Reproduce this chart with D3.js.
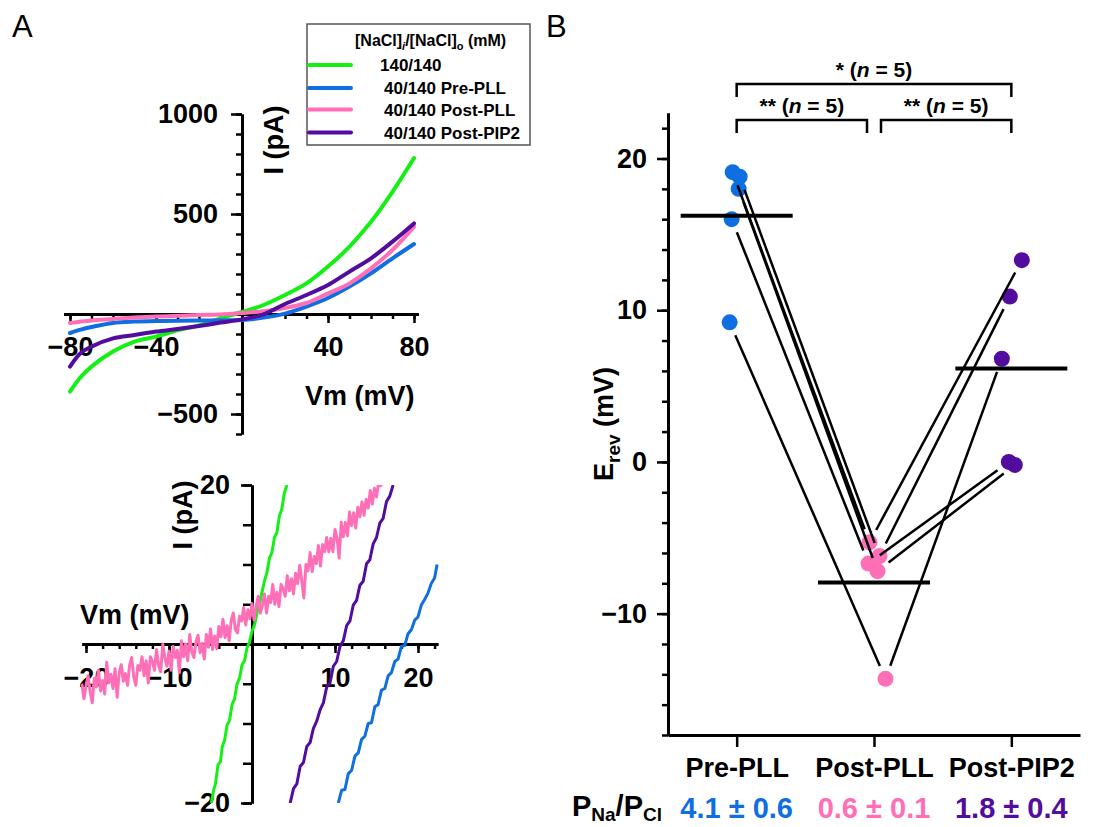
<!DOCTYPE html>
<html><head><meta charset="utf-8">
<script src="https://cdn.jsdelivr.net/npm/d3@7/dist/d3.min.js"></script>
<style>
html,body{margin:0;padding:0;background:#fff;}
svg{display:block;font-family:"Liberation Sans",Arial,sans-serif;}
</style></head><body>
<svg id="chart" width="1096" height="827"></svg>
<script>
// ---------------- DATA ----------------
const seriesNames = ["140/140", "40/140 Pre-PLL", "40/140 Post-PLL", "40/140 Post-PIP2"];
const seriesColors = ["#14f014", "#0f6fe0", "#ff6fb7", "#520c9e"];

// Panel A (top): whole I-V curves, Vm (mV) vs I (pA)
const ivVoltage = [-80, -75, -70, -60, -50, -40, -30, -20, -10, 0, 10, 20, 30, 40, 50, 60, 70, 80];
const ivGreen   = [-388, -315, -263, -188, -138, -113, -82, -57, -22, 10, 45, 95, 153, 237, 337, 461, 611, 780];
const ivBlue    = [-95, -78, -65, -45, -38, -35, -34, -33, -31, -30, -18, 2, 37, 80, 137, 203, 278, 350];
const ivPink    = [-45, -38, -32, -25, -18, -13, -9, -5, -2, 5, 14, 30, 55, 103, 153, 228, 320, 437];
const ivPurple  = [-263, -195, -163, -122, -105, -88, -75, -60, -43, -27, -2, 50, 95, 145, 212, 278, 362, 453];

// Panel A (bottom): zoom near reversal
const zoomGreenV = [-4.9,-4.6,-4.4,-4.1,-3.8,-3.6,-3.3,-3.0,-2.7,-2.4,-2.1,-1.8,-1.5,-1.2,-0.9,-0.6,-0.3,0,0.3,0.6,0.9,1.2,1.5,1.8,2.1,2.4,2.7,3.0,3.3,3.6,3.9,4.2];
const zoomGreenI = [-20,-18.3,-17.6,-15.2,-14.8,-13.0,-12.1,-10.2,-9.6,-7.6,-6.9,-5.0,-4.3,-2.6,-2.1,-0.5,0.2,1.6,2.4,3.9,5.0,6.5,7.9,9.0,10.8,11.5,13.4,14.0,16.1,17.0,19.0,20];
const zoomPurpleV = [4.6,5.0,5.4,5.8,6.2,6.6,7.0,7.4,7.8,8.2,8.6,9.0,9.4,9.8,10.2,10.6,11.0,11.4,11.8,12.2,12.6,13.0,13.4,13.8,14.2,14.6,15.0,15.4,15.8,16.2,16.6,17.0];
const zoomPurpleI = [-20,-18.2,-17.6,-15.4,-14.9,-12.9,-12.4,-10.6,-9.7,-8.3,-7.4,-5.4,-4.9,-2.8,-2.2,-0.3,0.4,2.3,2.9,4.9,5.5,7.4,7.9,10.1,10.6,12.6,13.4,15.2,15.8,17.9,18.6,20];
const zoomBlueV = [10.4,10.8,11.2,11.6,12.0,12.4,12.8,13.2,13.6,14.0,14.4,14.8,15.2,15.6,16.0,16.4,16.8,17.2,17.6,18.0,18.4,18.8,19.2,19.6,20.0,20.4,20.8,21.2,21.6,22.0,22.3];
const zoomBlueI = [-20,-18.4,-18.3,-16.3,-15.9,-14.1,-13.7,-12.0,-11.6,-10.0,-9.9,-7.9,-7.6,-5.8,-5.6,-4.0,-3.6,-2.2,-1.9,-0.3,-0.2,1.3,1.8,3.0,3.4,4.9,5.6,6.4,7.6,8.3,10];
const zoomPinkV = [
  -20.5,-20.25,-20,-19.75,-19.5,-19.25,-19,-18.75,-18.5,-18.25,-18,-17.75,-17.5,-17.25,-17,-16.75,-16.5,-16.25,-16,-15.75,
  -15.5,-15.25,-15,-14.75,-14.5,-14.25,-14,-13.75,-13.5,-13.25,-13,-12.75,-12.5,-12.25,-12,-11.75,-11.5,-11.25,-11,-10.75,
  -10.5,-10.25,-10,-9.75,-9.5,-9.25,-9,-8.75,-8.5,-8.25,-8,-7.75,-7.5,-7.25,-7,-6.75,-6.5,-6.25,-6,-5.75,
  -5.5,-5.25,-5,-4.75,-4.5,-4.25,-4,-3.75,-3.5,-3.25,-3,-2.75,-2.5,-2.25,-2,-1.75,-1.5,-1.25,-1,-0.75,
  -0.5,-0.25,0,0.25,0.5,0.75,1,1.25,1.5,1.75,2,2.25,2.5,2.75,3,3.25,3.5,3.75,4,4.25,
  4.5,4.75,5,5.25,5.5,5.75,6,6.25,6.5,6.75,7,7.25,7.5,7.75,8,8.25,8.5,8.75,9,9.25,
  9.5,9.75,10,10.25,10.5,10.75,11,11.25,11.5,11.75,12,12.25,12.5,12.75,13,13.25,13.5,13.75,14,14.25,
  14.5,14.75,15,15.25,15.5,15.75];
const zoomPinkI = [
  -5.0,-6.9,-5.3,-4.0,-6.0,-7.4,-4.3,-5.4,-3.3,-5.9,-4.6,-6.3,-2.3,-4.9,-3.8,-5.6,-3.1,-6.7,-3.6,-2.6,
  -4.7,-3.7,-5.2,-2.7,-1.7,-4.1,-5.2,-2.7,-3.3,-1.6,-4.0,-2.1,-4.9,-1.6,-2.2,-3.3,-0.7,-2.7,-3.5,0.0,
  -1.7,-2.8,-0.9,-3.3,-0.3,-1.7,-0.8,-3.6,0.4,-1.6,0.0,-2.1,1.2,-1.0,-1.7,0.3,1.1,-1.1,0.1,-1.9,
  1.2,-0.4,1.9,-0.7,1.0,-0.6,2.2,0.9,3.1,0.8,2.3,0.4,3.0,3.9,1.8,1.4,3.5,2.9,4.6,2.4,
  4.3,3.2,5.1,3.0,4.8,6.0,3.9,4.8,6.3,3.9,6.0,5.2,7.5,5.0,6.5,4.7,7.5,6.9,6.0,8.6,
  6.7,8.2,6.3,8.9,7.6,9.9,7.9,5.8,10.0,9.2,11.5,9.1,11.0,10.1,12.4,9.8,12.5,11.6,13.4,11.6,
  13.3,11.6,14.4,13.3,10.8,15.3,13.5,15.3,13.6,16.6,14.9,16.5,14.6,17.2,16.0,17.9,16.2,18.2,17.1,19.3,
  17.6,19.6,18.5,20.3,19.9,20.8];

// Panel B: reversal potentials (mV), one entry per cell
const conditions = ["Pre-PLL", "Post-PLL", "Post-PIP2"];
const erevPre      = [9.2, 16.0, 19.1, 18.8, 18.0];
const erevPostPLL  = [-14.3, -6.7, -5.3, -6.2, -7.2];
const erevPostPIP2 = [6.8, 0.0, 13.3, 10.9, -0.2];
const ratioLabels = ["4.1 ± 0.6", "0.6 ± 0.1", "1.8 ± 0.4"];
const sigLabels = ["*", "**", "**"];
const sigN = [5, 5, 5];

// ---------------- DRAW ----------------
const svg = d3.select("#chart");
const FONT = 27;
const condColors = [seriesColors[1], seriesColors[2], seriesColors[3]];

function styleAxis(g, fs) {
  g.selectAll("path.domain").attr("stroke", "#000").attr("stroke-width", 3);
  g.selectAll(".tick line").attr("stroke", "#000").attr("stroke-width", 2.5);
  g.selectAll("text").attr("font-size", fs).attr("font-weight", "bold")
    .attr("fill", "#000").attr("font-family", '"Liberation Sans",Arial,sans-serif');
}

// panel letters
svg.append("text").attr("x", 12).attr("y", 37).attr("font-size", 31).text("A");
svg.append("text").attr("x", 546).attr("y", 37).attr("font-size", 31).text("B");

// ======== Panel A top ========
const xTop = d3.scaleLinear().domain([-80, 80]).range([70, 414]);
const yTop = d3.scaleLinear().domain([-600, 1000]).range([434, 114]);
const xTopAx = xTop.copy().domain([-83, 82]).range([xTop(-83), xTop(82)]);
const gTop = svg.append("g");

const gxt1 = gTop.append("g").attr("transform", `translate(0,${yTop(0)})`)
  .call(d3.axisBottom(xTopAx).tickValues(d3.range(-80, 81, 10)).tickSize(5).tickSizeOuter(0).tickFormat(""));
styleAxis(gxt1, FONT);
const gxt2 = gTop.append("g").attr("transform", `translate(0,${yTop(0)})`)
  .call(d3.axisBottom(xTopAx).tickValues([-80, -40, 40, 80]).tickSize(9).tickPadding(14).tickSizeOuter(0));
styleAxis(gxt2, FONT);

const gyt1 = gTop.append("g").attr("transform", `translate(${xTop(0)},0)`)
  .call(d3.axisLeft(yTop).tickValues(d3.range(-600, 1001, 100)).tickSize(6).tickSizeOuter(0).tickFormat(""));
styleAxis(gyt1, FONT);
const gyt2 = gTop.append("g").attr("transform", `translate(${xTop(0)},0)`)
  .call(d3.axisLeft(yTop).tickValues([-500, 0, 500, 1000]).tickSize(11).tickPadding(13).tickSizeOuter(0)
    .tickFormat(d => d === 0 ? "" : d3.format("")(d)));
styleAxis(gyt2, FONT);

svg.append("text").attr("transform", `translate(283,140) rotate(-90)`)
  .attr("text-anchor", "middle").attr("font-size", FONT).attr("font-weight", "bold").text("I (pA)");
svg.append("text").attr("x", 305).attr("y", 405)
  .attr("font-size", FONT).attr("font-weight", "bold").text("Vm (mV)");

const topSeries = [ivGreen, ivBlue, ivPink, ivPurple];
const lineTop = d3.line().x(d => xTop(d[0])).y(d => yTop(d[1])).curve(d3.curveCatmullRom.alpha(0.5));
topSeries.forEach((s, i) => {
  gTop.append("path").datum(ivVoltage.map((v, k) => [v, s[k]]))
    .attr("d", lineTop).attr("fill", "none").attr("stroke", seriesColors[i])
    .attr("stroke-width", 4).attr("stroke-linecap", "round");
});

// legend
const lg = svg.append("g");
lg.append("rect").attr("x", 307).attr("y", 24).attr("width", 223).attr("height", 121)
  .attr("fill", "#fff").attr("stroke", "#555").attr("stroke-width", 1.5);
const lt = lg.append("text").attr("x", 355).attr("y", 46).attr("font-size", 16).attr("font-weight", "bold");
lt.append("tspan").text("[NaCl]");
lt.append("tspan").attr("font-size", 11).attr("font-style", "italic").attr("dy", 4).text("i");
lt.append("tspan").attr("dy", -4).text("/[NaCl]");
lt.append("tspan").attr("font-size", 11).attr("dy", 4).text("o");
lt.append("tspan").attr("dy", -4).text(" (mM)");
const legY = [65, 88, 109.5, 132.5];
const legX = [380, 384, 384, 384];
seriesNames.forEach((n, i) => {
  lg.append("line").attr("x1", 309).attr("x2", 351).attr("y1", legY[i]).attr("y2", legY[i])
    .attr("stroke", seriesColors[i]).attr("stroke-width", 4).attr("stroke-linecap", "round");
  lg.append("text").attr("x", legX[i]).attr("y", legY[i] + 6).attr("font-size", 17)
    .attr("font-weight", "bold").text(n);
});

// ======== Panel A bottom ========
const xBot = d3.scaleLinear().domain([-20, 20]).range([86, 418]);
const yBot = d3.scaleLinear().domain([-20, 20]).range([803, 485]);
const xBotAx = xBot.copy().domain([-20.5, 22.4]).range([xBot(-20.5), xBot(22.4)]);
const gBot = svg.append("g");
const gxb1 = gBot.append("g").attr("transform", `translate(0,${yBot(0)})`)
  .call(d3.axisBottom(xBotAx).tickValues(d3.range(-20, 23, 2)).tickSize(5).tickSizeOuter(0).tickFormat(""));
styleAxis(gxb1, FONT);
const gxb2 = gBot.append("g").attr("transform", `translate(0,${yBot(0)})`)
  .call(d3.axisBottom(xBotAx).tickValues([-20, -10, 10, 20]).tickSize(9).tickPadding(15).tickSizeOuter(0));
styleAxis(gxb2, FONT);
const gyb1 = gBot.append("g").attr("transform", `translate(${xBot(0)},0)`)
  .call(d3.axisLeft(yBot).tickValues(d3.range(-20, 21, 5)).tickSize(9).tickSizeOuter(0).tickFormat(""));
styleAxis(gyb1, FONT);
const gyb2 = gBot.append("g").attr("transform", `translate(${xBot(0)},0)`)
  .call(d3.axisLeft(yBot).tickValues([-20, 20]).tickSize(11).tickPadding(11).tickSizeOuter(0));
styleAxis(gyb2, FONT);

svg.append("text").attr("transform", `translate(192,515) rotate(-90)`)
  .attr("text-anchor", "middle").attr("font-size", FONT).attr("font-weight", "bold").text("I (pA)");
svg.append("text").attr("x", 80).attr("y", 624)
  .attr("font-size", FONT).attr("font-weight", "bold").text("Vm (mV)");

svg.append("clipPath").attr("id", "clipBot").append("rect")
  .attr("x", xBot(-20.6)).attr("y", yBot(20)).attr("width", xBot(22.6) - xBot(-20.6)).attr("height", yBot(-20) - yBot(20));
const lineBot = d3.line().x(d => xBot(d[0])).y(d => yBot(d[1]));
const botSeries = [[zoomGreenV, zoomGreenI], [zoomBlueV, zoomBlueI], [zoomPinkV, zoomPinkI], [zoomPurpleV, zoomPurpleI]];
const gBotCurves = gBot.append("g").attr("clip-path", "url(#clipBot)");
[0, 3, 1, 2].forEach(i => {
  const [vs, is] = botSeries[i];
  gBotCurves.append("path").datum(vs.map((v, k) => [v, is[k]]))
    .attr("d", lineBot).attr("fill", "none").attr("stroke", seriesColors[i])
    .attr("stroke-width", 3).attr("stroke-linejoin", "round");
});

// ======== Panel B ========
const xB = d3.scalePoint().domain(conditions).range([668, 1080]).padding(0.5);
const yB = d3.scaleLinear().domain([-18, 23]).range([735, 113]);
const gB = svg.append("g");
const gyB1 = gB.append("g").attr("transform", "translate(668,0)")
  .call(d3.axisLeft(yB).tickValues(d3.range(-18, 23, 2)).tickSize(6).tickSizeOuter(0).tickFormat(""));
styleAxis(gyB1, FONT);
const gyB2 = gB.append("g").attr("transform", "translate(668,0)")
  .call(d3.axisLeft(yB).tickValues([-10, 0, 10, 20]).tickSize(11).tickPadding(10).tickSizeOuter(0));
styleAxis(gyB2, FONT);
const gxB = gB.append("g").attr("transform", `translate(0,${yB(-18)})`)
  .call(d3.axisBottom(xB).tickSize(12).tickPadding(11).tickSizeOuter(0));
styleAxis(gxB, FONT);

const ey = svg.append("text").attr("transform", `translate(613,424) rotate(-90)`)
  .attr("text-anchor", "middle").attr("font-size", FONT).attr("font-weight", "bold");
ey.append("tspan").text("E");
ey.append("tspan").attr("font-size", 19).attr("dy", 7).text("rev");
ey.append("tspan").attr("dy", -7).text(" (mV)");

// dots (horizontal scatter offsets in px, purely visual)
const dotJitter = [[-7, -5, -4, 3, 2], [11.5, -5.5, -4.5, 5.5, 3.5], [-9.5, -2.5, 10.5, -1.5, 3.5]];
const groups = [erevPre, erevPostPLL, erevPostPIP2];
const pts = groups.map((g, gi) => g.map((v, k) => ({ x: xB(conditions[gi]) + dotJitter[gi][k], y: yB(v) })));
groups.forEach((g, gi) => {
  gB.append("g").selectAll("circle").data(pts[gi]).join("circle")
    .attr("cx", d => d.x).attr("cy", d => d.y).attr("r", 8).attr("fill", condColors[gi]);
});
// means
groups.forEach((g, gi) => {
  const m = d3.mean(g), cx = xB(conditions[gi]);
  gB.append("line").attr("x1", cx - 56).attr("x2", cx + 56).attr("y1", yB(m)).attr("y2", yB(m))
    .attr("stroke", "#000").attr("stroke-width", 4);
});
// paired lines, shortened at both ends
const gap = 14;
for (let k = 0; k < erevPre.length; k++) {
  for (let gi = 0; gi < 2; gi++) {
    const a = pts[gi][k], b = pts[gi + 1][k];
    const dx = b.x - a.x, dy = b.y - a.y, L = Math.hypot(dx, dy);
    const ux = dx / L, uy = dy / L;
    gB.append("line").attr("x1", a.x + ux * gap).attr("y1", a.y + uy * gap)
      .attr("x2", b.x - ux * gap).attr("y2", b.y - uy * gap)
      .attr("stroke", "#000").attr("stroke-width", 2.5);
  }
}

// significance brackets
const brackets = [
  { a: 0, b: 2, y: 84, drop: 13, ia: 0, ib: 0 },
  { a: 0, b: 1, y: 120, drop: 13, ia: 0, ib: -7 },
  { a: 1, b: 2, y: 120, drop: 13, ia: 7, ib: 0 }
];
brackets.forEach((br, i) => {
  const x1 = xB(conditions[br.a]) + br.ia, x2 = xB(conditions[br.b]) + br.ib;
  gB.append("path").attr("d", `M${x1},${br.y + br.drop}V${br.y}H${x2}V${br.y + br.drop}`)
    .attr("fill", "none").attr("stroke", "#000").attr("stroke-width", 2.5);
  const t = gB.append("text").attr("x", (x1 + x2) / 2).attr("y", br.y - 7)
    .attr("text-anchor", "middle").attr("font-size", 21).attr("font-weight", "bold");
  t.append("tspan").text(sigLabels[i] + " (");
  t.append("tspan").attr("font-style", "italic").text("n");
  t.append("tspan").text(" = " + sigN[i] + ")");
});

// permeability ratios
const pr = svg.append("text").attr("x", 662).attr("y", 816).attr("text-anchor", "end")
  .attr("font-size", 29).attr("font-weight", "bold");
pr.append("tspan").text("P");
pr.append("tspan").attr("font-size", 19).attr("dy", 5).text("Na");
pr.append("tspan").attr("dy", -5).text("/P");
pr.append("tspan").attr("font-size", 19).attr("dy", 5).text("Cl");
ratioLabels.forEach((r, i) => {
  svg.append("text").attr("x", xB(conditions[i])).attr("y", 818).attr("text-anchor", "middle")
    .attr("font-size", 29).attr("font-weight", "bold").attr("fill", condColors[i]).text(r);
});
</script>
</body></html>
